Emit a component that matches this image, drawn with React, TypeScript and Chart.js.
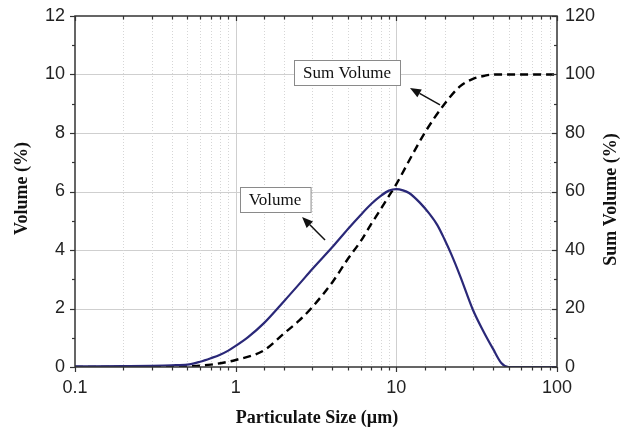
import React, { useEffect, useRef } from "react";
import { Chart, registerables } from "chart.js";

Chart.register(...registerables);

// ---- data ----
const volumeSizes = [0.1, 0.2, 0.3, 0.4, 0.5, 0.6, 0.7, 0.8, 0.9, 1, 1.2, 1.5, 2, 2.5, 3, 4, 5, 6, 7, 8, 9, 10, 11, 12, 14, 16, 18, 20, 22, 25, 30, 35, 40, 45, 50, 60, 100];
const volumeValues = [0.02, 0.03, 0.04, 0.06, 0.08, 0.18, 0.3, 0.42, 0.56, 0.72, 1.03, 1.5, 2.25, 2.85, 3.35, 4.1, 4.72, 5.2, 5.58, 5.85, 6.03, 6.08, 6.04, 5.95, 5.62, 5.25, 4.85, 4.35, 3.85, 3.1, 1.95, 1.2, 0.62, 0.14, 0, 0, 0];

const sumSizes = [0.1, 0.2, 0.3, 0.4, 0.5, 0.7, 1, 1.5, 2, 2.5, 3, 4, 5, 6, 7, 8, 9, 10, 12, 15, 20, 25, 30, 35, 40, 50, 60, 100];
const sumValues = [0, 0, 0, 0, 0.2, 0.8, 2.4, 5.7, 11.5, 16, 20.5, 29, 37, 43, 49, 54, 58.5, 62.5, 70.5, 80, 90, 96, 98.5, 99.5, 100, 100, 100, 100];

const xTickLabels = ["0.1", "1", "10", "100"];

const seriesNames = ["Volume", "Sum Volume"];
const axisTitles = ["Particulate Size (µm)", "Volume (%)", "Sum Volume (%)"];

// annotation labels & arrows (in data coordinates of x / y axes)
const annotations = [
  { text: "Sum Volume", cx: 4.93, cy: 10.07, tail: [18.7, 8.96], head: [12.16, 9.54] },
  { text: "Volume", cx: 1.757, cy: 5.73, tail: [3.6, 4.34], head: [2.59, 5.13] },
];

const isDecade = (v: number) => Math.abs(Math.log10(v) - Math.round(Math.log10(v))) < 1e-6;

const framePlugin = {
  id: "frame",
  beforeDatasetsDraw(chart: any) {
    const { ctx, chartArea } = chart;
    const { left, right, top, bottom } = chartArea;
    const xs = chart.scales.x;
    const ys = chart.scales.y;
    ctx.save();
    ctx.lineWidth = 1;
    // horizontal grid
    ctx.strokeStyle = "#cfcfcf";
    ys.ticks.forEach((t: any) => {
      if (t.value <= ys.min || t.value >= ys.max) return;
      const y = Math.round(ys.getPixelForValue(t.value)) + 0.5;
      ctx.beginPath();
      ctx.moveTo(left, y);
      ctx.lineTo(right, y);
      ctx.stroke();
    });
    // vertical grid
    xs.ticks.forEach((t: any) => {
      if (t.value <= xs.min || t.value >= xs.max) return;
      const x = Math.round(xs.getPixelForValue(t.value)) + 0.5;
      ctx.beginPath();
      if (isDecade(t.value)) {
        ctx.setLineDash([]);
        ctx.strokeStyle = "#cfcfcf";
      } else {
        ctx.setLineDash([1, 2]);
        ctx.strokeStyle = "#d6d6d6";
      }
      ctx.moveTo(x, top);
      ctx.lineTo(x, bottom);
      ctx.stroke();
    });
    ctx.restore();
  },
  afterDatasetsDraw(chart: any) {
    const { ctx, chartArea } = chart;
    const { left, right, top, bottom } = chartArea;
    const xs = chart.scales.x;
    const ys = chart.scales.y;
    const y2 = chart.scales.y2;
    ctx.save();
    ctx.strokeStyle = "#333";
    ctx.lineWidth = 1.5;
    ctx.setLineDash([]);
    ctx.strokeRect(left, top, right - left, bottom - top);
    ctx.lineWidth = 1.2;
    // x ticks
    xs.ticks.forEach((t: any) => {
      const x = Math.round(xs.getPixelForValue(t.value)) + 0.5;
      const len = isDecade(t.value) ? 5 : 3.5;
      ctx.beginPath();
      ctx.moveTo(x, bottom);
      ctx.lineTo(x, bottom + len);
      ctx.moveTo(x, top);
      ctx.lineTo(x, top + len);
      ctx.stroke();
    });
    // y ticks (left outward, right inward)
    const yTick = (scale: any, isLeft: boolean) => {
      const vals: number[] = scale.ticks.map((t: any) => t.value);
      vals.forEach((v, i) => {
        const y = Math.round(scale.getPixelForValue(v)) + 0.5;
        ctx.beginPath();
        if (isLeft) {
          ctx.moveTo(left - 5, y);
          ctx.lineTo(left, y);
        } else {
          ctx.moveTo(right - 5, y);
          ctx.lineTo(right, y);
        }
        ctx.stroke();
        if (i < vals.length - 1) {
          const m = (v + vals[i + 1]) / 2;
          const ym = Math.round(scale.getPixelForValue(m)) + 0.5;
          ctx.beginPath();
          if (isLeft) {
            ctx.moveTo(left - 3, ym);
            ctx.lineTo(left, ym);
          } else {
            ctx.moveTo(right - 3, ym);
            ctx.lineTo(right, ym);
          }
          ctx.stroke();
        }
      });
    };
    yTick(ys, true);
    yTick(y2, false);

    // annotations
    ctx.font = "17px 'Liberation Serif'";
    annotations.forEach((a) => {
      const cx = xs.getPixelForValue(a.cx);
      const cy = ys.getPixelForValue(a.cy);
      const w = ctx.measureText(a.text).width + 18;
      const h = 25;
      const bx = Math.round(cx - w / 2) + 0.5;
      const by = Math.round(cy - h / 2) + 0.5;
      ctx.fillStyle = "#fff";
      ctx.fillRect(bx, by, w, h);
      ctx.strokeStyle = "#8a8a8a";
      ctx.lineWidth = 1;
      ctx.strokeRect(bx, by, w, h);
      ctx.fillStyle = "#111";
      ctx.textAlign = "center";
      ctx.textBaseline = "middle";
      ctx.fillText(a.text, cx, cy + 1);

      const tx = xs.getPixelForValue(a.tail[0]);
      const ty = ys.getPixelForValue(a.tail[1]);
      const hx = xs.getPixelForValue(a.head[0]);
      const hy = ys.getPixelForValue(a.head[1]);
      const ang = Math.atan2(hy - ty, hx - tx);
      const hl = 11;
      const hw = 4.5;
      const bxp = hx - hl * Math.cos(ang);
      const byp = hy - hl * Math.sin(ang);
      ctx.strokeStyle = "#111";
      ctx.lineWidth = 1.5;
      ctx.beginPath();
      ctx.moveTo(tx, ty);
      ctx.lineTo(bxp, byp);
      ctx.stroke();
      ctx.fillStyle = "#111";
      ctx.beginPath();
      ctx.moveTo(hx, hy);
      ctx.lineTo(bxp + hw * Math.sin(ang), byp - hw * Math.cos(ang));
      ctx.lineTo(bxp - hw * Math.sin(ang), byp + hw * Math.cos(ang));
      ctx.closePath();
      ctx.fill();
    });
    ctx.restore();
  },
  afterDraw(chart: any) {
    const { ctx, chartArea } = chart;
    const { left, right, top, bottom } = chartArea;
    const midY = (top + bottom) / 2;
    ctx.save();
    ctx.fillStyle = "#111";
    ctx.font = "bold 18px 'Liberation Serif'";
    ctx.textAlign = "center";
    ctx.textBaseline = "middle";
    ctx.fillText(axisTitles[0], (left + right) / 2 + 1, bottom + 51);
    ctx.save();
    ctx.translate(left - 53, midY - 3);
    ctx.rotate(-Math.PI / 2);
    ctx.fillText(axisTitles[1], 0, 0);
    ctx.restore();
    ctx.save();
    ctx.translate(right + 54, midY + 8);
    ctx.rotate(-Math.PI / 2);
    ctx.fillText(axisTitles[2], 0, 0);
    ctx.restore();
    ctx.restore();
  },
};

const zeroPad = (s: any) => {
  s.paddingTop = 0;
  s.paddingBottom = 0;
  s.paddingLeft = 0;
  s.paddingRight = 0;
};

export default function App() {
  const ref = useRef<HTMLCanvasElement | null>(null);
  useEffect(() => {
    document.body.style.margin = "0";
    const canvas = ref.current;
    if (!canvas) return;
    const tickFont = { family: "'Liberation Sans', Arial, sans-serif", size: 18 };
    const chart = new Chart(canvas, {
      type: "line",
      data: {
        datasets: [
          {
            label: seriesNames[0],
            data: volumeSizes.map((x, i) => ({ x, y: volumeValues[i] })),
            borderColor: "#2a2878",
            borderWidth: 2.2,
            pointRadius: 0,
            fill: false,
            cubicInterpolationMode: "monotone",
            yAxisID: "y",
          },
          {
            label: seriesNames[1],
            data: sumSizes.map((x, i) => ({ x, y: sumValues[i] })),
            borderColor: "#000",
            borderWidth: 2.4,
            borderDash: [8, 5],
            pointRadius: 0,
            fill: false,
            cubicInterpolationMode: "monotone",
            yAxisID: "y2",
          },
        ],
      },
      options: {
        responsive: false,
        animation: false,
        devicePixelRatio: 1,
        layout: { padding: { top: 16, left: 0, right: 0, bottom: 0 } },
        plugins: { legend: { display: false }, tooltip: { enabled: false } },
        scales: {
          x: {
            type: "logarithmic",
            min: 0.1,
            max: 100,
            grid: { display: false, drawTicks: false },
            border: { display: false },
            afterFit: (s: any) => { s.height = 68; zeroPad(s); },
            ticks: {
              autoSkip: false,
              maxRotation: 0,
              padding: 10,
              color: "#222",
              font: tickFont,
              callback: (v: any) => {
                const n = Number(v);
                if (!isDecade(n)) return "";
                const k = Math.round(Math.log10(n)) + 1;
                return xTickLabels[k] ?? "";
              },
            },
          },
          y: {
            position: "left",
            min: 0,
            max: 12,
            grid: { display: false, drawTicks: false },
            border: { display: false },
            afterFit: (s: any) => { s.width = 75; zeroPad(s); },
            ticks: { stepSize: 2, padding: 10, color: "#222", font: tickFont },
          },
          y2: {
            position: "right",
            min: 0,
            max: 120,
            grid: { display: false, drawTicks: false },
            border: { display: false },
            afterFit: (s: any) => { s.width = 72; zeroPad(s); },
            ticks: { stepSize: 20, padding: 8, color: "#222", font: tickFont },
          },
        },
      } as any,
      plugins: [framePlugin],
    });
    return () => chart.destroy();
  }, []);
  return <canvas ref={ref} width={629} height={435} style={{ display: "block" }} />;
}
